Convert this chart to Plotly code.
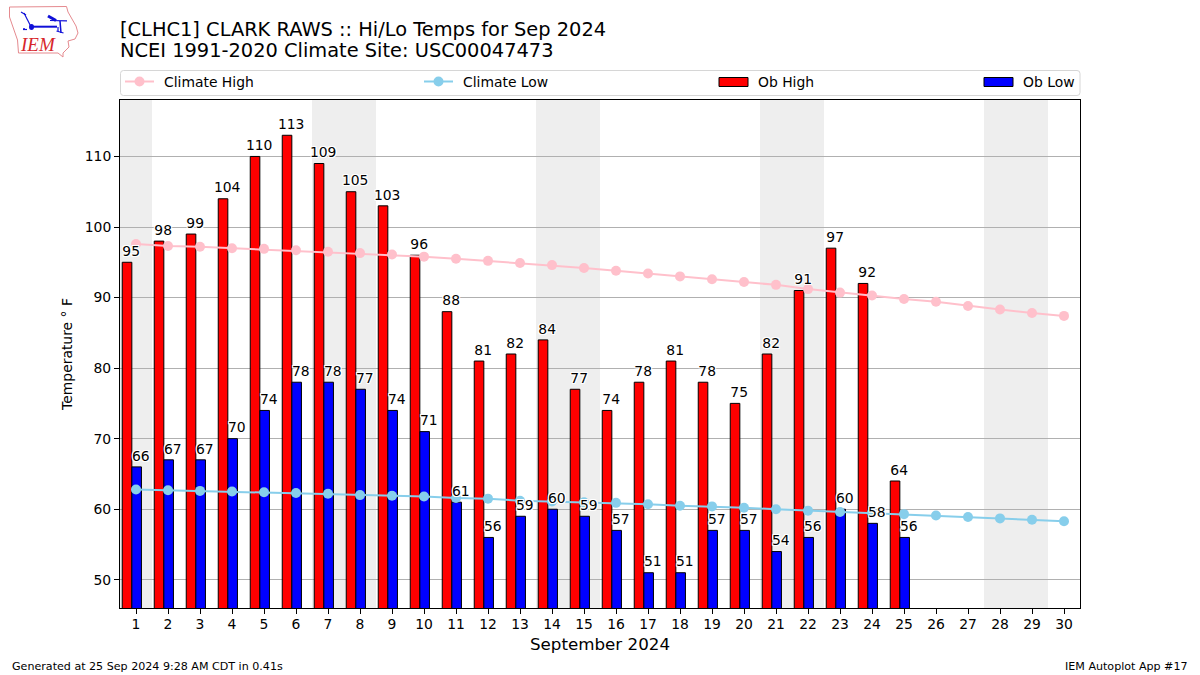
import plotly.graph_objects as go

W, H = 1200, 675
ML, MR, MT, MB = 120, 120, 100, 67
FONT = "DejaVu Sans"

days = list(range(1, 31))
ob_days = list(range(1, 26))
ob_high = [95, 98, 99, 104, 110, 113, 109, 105, 103, 96, 88, 81, 82, 84, 77, 74, 78, 81, 78, 75, 82, 91, 97, 92, 64]
ob_low = [66, 67, 67, 70, 74, 78, 78, 77, 74, 71, 61, 56, 59, 60, 59, 57, 51, 51, 57, 57, 54, 56, 60, 58, 56]
climate_high = [97.6, 97.3, 97.2, 97.0, 96.9, 96.7, 96.5, 96.3, 96.1, 95.8, 95.5, 95.2, 94.9, 94.6, 94.2,
                93.8, 93.4, 93.0, 92.6, 92.2, 91.8, 91.2, 90.7, 90.3, 89.8, 89.4, 88.8, 88.3, 87.8, 87.4]
climate_low = [62.8, 62.7, 62.6, 62.5, 62.4, 62.3, 62.2, 62.0, 61.9, 61.8, 61.6, 61.5, 61.2, 61.1, 61.0,
               60.9, 60.7, 60.5, 60.4, 60.2, 60.0, 59.8, 59.6, 59.5, 59.3, 59.1, 58.9, 58.7, 58.5, 58.3]
weekend_spans = [(0.5, 1.5), (6.5, 8.5), (13.5, 15.5), (20.5, 22.5), (27.5, 29.5)]
title_1 = "[CLHC1] CLARK RAWS :: Hi/Lo Temps for Sep 2024"
title_2 = "NCEI 1991-2020 Climate Site: USC00047473"
footer_left = "Generated at 25 Sep 2024 9:28 AM CDT in 0.41s"
footer_right = "IEM Autoplot App #17"

PINK, SKY = "#FFC0CB", "#87CEEB"
HALO = "1px 0 0 #fff, -1px 0 0 #fff, 0 1px 0 #fff, 0 -1px 0 #fff, 1px 1px 0 #fff, -1px -1px 0 #fff, 1px -1px 0 #fff, -1px 1px 0 #fff"
LABEL_LIFT = 0.4


def fx(x):
    return (x - ML) / (W - ML - MR)


def fy(y):
    return (H - MB - y) / (H - MT - MB)


def page_shape(kind, x0, y0, x1, y1, **kw):
    return dict(type=kind, xref="paper", yref="paper", x0=fx(x0), x1=fx(x1), y0=fy(y0), y1=fy(y1), **kw)


def page_note(text, x, y, size, anchor="left", color="#000", family=FONT):
    return dict(text=text, xref="paper", yref="paper", x=fx(x), y=fy(y), xanchor=anchor, yanchor="middle",
                showarrow=False, borderpad=0, borderwidth=0, font=dict(size=size, color=color, family=family))


def page_line(x0, y0, x1, y1, color, width):
    return page_shape("line", x0, y0, x1, y1, line=dict(color=color, width=width))


def page_path(points, closed=False, **kw):
    d = "M " + " L ".join(f"{fx(x)} {fy(y)}" for x, y in points) + (" Z" if closed else "")
    return dict(type="path", xref="paper", yref="paper", path=d, **kw)


def rounded_box(x0, y0, x1, y1, r, **kw):
    p = lambda x, y: f"{fx(x)} {fy(y)}"
    d = (f"M {p(x0 + r, y0)} L {p(x1 - r, y0)} Q {p(x1, y0)} {p(x1, y0 + r)} L {p(x1, y1 - r)} "
         f"Q {p(x1, y1)} {p(x1 - r, y1)} L {p(x0 + r, y1)} Q {p(x0, y1)} {p(x0, y1 - r)} "
         f"L {p(x0, y0 + r)} Q {p(x0, y0)} {p(x0 + r, y0)} Z")
    return dict(type="path", xref="paper", yref="paper", path=d, **kw)


fig = go.Figure()
fig.add_bar(x=ob_days, y=ob_high, width=0.3, offset=-0.43, name="Ob High",
            marker=dict(color="#FF0000", line=dict(color="#000", width=1)))
fig.add_bar(x=ob_days, y=ob_low, width=0.3, offset=-0.13, name="Ob Low",
            marker=dict(color="#0000FF", line=dict(color="#000", width=1)))
fig.add_scatter(x=days, y=climate_high, mode="lines+markers", name="Climate High",
                line=dict(color=PINK, width=2), marker=dict(color=PINK, size=10))
fig.add_scatter(x=days, y=climate_low, mode="lines+markers", name="Climate Low",
                line=dict(color=SKY, width=2), marker=dict(color=SKY, size=10))
label_font = dict(size=13.9, color="#000", family=FONT, shadow=HALO)
fig.add_scatter(x=[d - 0.15 for d in ob_days], y=[v + LABEL_LIFT for v in ob_high], mode="text",
                text=[str(v) for v in ob_high], textposition="top center", textfont=label_font,
                hoverinfo="skip", cliponaxis=False)
fig.add_scatter(x=[d + 0.15 for d in ob_days], y=[v + LABEL_LIFT for v in ob_low], mode="text",
                text=[str(v) for v in ob_low], textposition="top center", textfont=label_font,
                hoverinfo="skip", cliponaxis=False)

shapes = [dict(type="rect", xref="x", yref="paper", x0=a, x1=b, y0=0, y1=1, layer="below",
               fillcolor="#EEEEEE", line=dict(width=0)) for a, b in weekend_spans]

# legend box and keys
shapes.append(rounded_box(120.5, 70.5, 1080, 95.5, 3, line=dict(color="#D6D6D6", width=1), fillcolor="#fff"))
for x0, c in ((125, PINK), (424, SKY)):
    shapes.append(page_line(x0, 81.5, x0 + 29, 81.5, c, 2))
    shapes.append(page_shape("circle", x0 + 9.5, 76.5, x0 + 19.5, 86.5, fillcolor=c, line=dict(width=0)))
for x0, c in ((719, "#FF0000"), (984, "#0000FF")):
    shapes.append(page_shape("rect", x0, 77.5, x0 + 29, 86.5, fillcolor=c, line=dict(color="#000", width=1)))

# IEM logo
iowa = [(9.5, 7), (66.5, 6.5), (68, 12), (76, 26), (78, 33), (75, 39), (68, 41), (69, 47), (63, 53), (63, 57),
        (58, 53), (18.5, 53), (17.5, 40), (14, 30), (9.5, 17)]
shapes.append(page_path(iowa, closed=True, line=dict(color="#E58A8F", width=1)))
logo_blue = "#1010D8"
for seg in [((31, 26.7), (57, 26.7), 2), ((24, 13), (31, 26.7), 1.2), ((21, 12), (26, 15), 1.2),
            ((48, 16), (56, 20.5), 3), ((50, 20.5), (67, 20.8), 1.2), ((60, 21), (61, 33), 1.5),
            ((56.5, 31), (63.5, 33), 1.2), ((58, 27), (58, 31), 1.2), ((24, 28), (24, 29), 1.5),
            ((23, 29.5), (27, 29.5), 1.2)]:
    shapes.append(page_line(seg[0][0], seg[0][1], seg[1][0], seg[1][1], logo_blue, seg[2]))
shapes.append(page_shape("circle", 29, 24, 34, 30, fillcolor=logo_blue, line=dict(width=0)))

annotations = [
    page_note(title_2, 120, 50.5, 19.4),
    page_note("Climate High", 164, 81.5, 13.9),
    page_note("Climate Low", 463, 81.5, 13.9),
    page_note("Ob High", 758, 81.5, 13.9),
    page_note("Ob Low", 1023, 81.5, 13.9),
    page_note(footer_left, 12, 666, 11.1),
    page_note(footer_right, 1188, 666, 11.1, anchor="right"),
    page_note("<i>IEM</i>", 37.5, 45, 19, anchor="center", color="#D7262B", family="Liberation Serif"),
]

fig.update_layout(
    width=W, height=H, margin=dict(l=ML, r=MR, t=MT, b=MB, autoexpand=False),
    paper_bgcolor="#fff", plot_bgcolor="#fff", barmode="overlay", showlegend=False,
    font=dict(family=FONT, size=13.9, color="#000"),
    title=dict(text=title_1, x=120 / W, xanchor="left", xref="container", y=1 - 29 / H, yanchor="middle",
               font=dict(size=19.4, family=FONT, color="#000")),
    shapes=shapes, annotations=annotations,
    xaxis=dict(range=[0.5, 30.5], tickmode="array", tickvals=days, ticktext=[str(d) for d in days],
               showgrid=False, zeroline=False, showline=True, linecolor="#000", linewidth=1, mirror=True,
               ticks="outside", ticklen=5, tickcolor="#000", tickwidth=1, tickangle=0, ticklabelstandoff=-2,
               title=dict(text="September 2024", font=dict(size=16.7, family=FONT), standoff=7)),
    yaxis=dict(range=[46, 118], tickmode="array", tickvals=list(range(50, 120, 10)),
               showgrid=True, gridcolor="#B0B0B0", gridwidth=1, zeroline=False, showline=True,
               linecolor="#000", linewidth=1, mirror=True, ticks="outside", ticklen=5, tickcolor="#000",
               tickwidth=1, title=dict(text="Temperature ° F", font=dict(size=13.9, family=FONT), standoff=8)),
)
fig.write_html("out.html", config=dict(displayModeBar=False),
               post_script="document.body.style.margin='0';document.documentElement.style.overflow='hidden';")
